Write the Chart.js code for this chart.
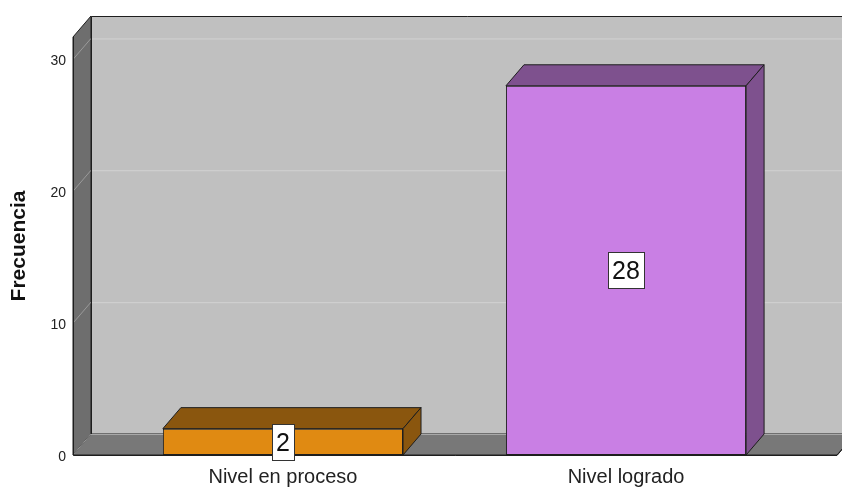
<!DOCTYPE html>
<html lang="es">
<head>
  <meta charset="UTF-8">
  <title>Frecuencia</title>
  <script src="https://cdn.jsdelivr.net/npm/chart.js"></script>
  <style>
    html, body { margin: 0; padding: 0; background: #fff; }
    #wrap { width: 842px; height: 488px; }
  </style>
</head>
<body>
<div id="wrap"><canvas id="barChart" width="842" height="488"></canvas></div>
<script>
  // data
  const categories = ['Nivel en proceso', 'Nivel logrado'];
  const counts = [2, 28];
  const yTicks = [0, 10, 20, 30];

  const frontColors = ['#e08a12', '#c97fe4'];
  const depthColors = ['#8a560e', '#7e518e'];

  // 3D depth offset of the walls and bars
  const DX = 18, DY = -21;

  const walls = {
    id: 'walls',
    beforeDatasetsDraw(chart) {
      const { ctx, chartArea: a, scales: { y } } = chart;
      ctx.save();
      ctx.lineWidth = 1;
      ctx.strokeStyle = '#1e1e1e';
      // back wall
      ctx.fillStyle = '#c0c0c0';
      ctx.fillRect(a.left + DX, a.top + DY, a.right - a.left, a.bottom - a.top);
      // left wall
      ctx.fillStyle = '#6e6e6e';
      ctx.beginPath();
      ctx.moveTo(a.left, a.top);
      ctx.lineTo(a.left + DX, a.top + DY);
      ctx.lineTo(a.left + DX, a.bottom + DY);
      ctx.lineTo(a.left, a.bottom);
      ctx.closePath();
      ctx.fill();
      ctx.stroke();
      // floor
      ctx.fillStyle = '#787878';
      ctx.beginPath();
      ctx.moveTo(a.left, a.bottom);
      ctx.lineTo(a.left + DX, a.bottom + DY);
      ctx.lineTo(a.right + DX, a.bottom + DY);
      ctx.lineTo(a.right, a.bottom);
      ctx.closePath();
      ctx.fill();
      ctx.stroke();
      // grid lines
      yTicks.forEach(v => {
        const py = y.getPixelForValue(v);
        ctx.strokeStyle = v === 0 ? '#a8a8a8' : '#d2d2d2';
        ctx.beginPath();
        ctx.moveTo(a.left + DX, py + DY + 0.5);
        ctx.lineTo(a.right + DX, py + DY + 0.5);
        ctx.stroke();
        ctx.strokeStyle = '#9a9a9a';
        ctx.beginPath();
        ctx.moveTo(a.left, py);
        ctx.lineTo(a.left + DX, py + DY);
        ctx.stroke();
      });
      // wall edges
      ctx.strokeStyle = '#1e1e1e';
      ctx.beginPath();
      ctx.moveTo(a.left + DX + 0.5, a.bottom + DY);
      ctx.lineTo(a.left + DX + 0.5, a.top + DY + 0.5);
      ctx.lineTo(a.right + DX + 2, a.top + DY + 0.5);
      ctx.stroke();
      ctx.beginPath();
      ctx.moveTo(a.left + 0.5, a.top);
      ctx.lineTo(a.left + 0.5, a.bottom + 0.5);
      ctx.lineTo(a.right, a.bottom + 0.5);
      ctx.lineTo(a.right + DX, a.bottom + DY);
      ctx.stroke();
      ctx.restore();
    },
    afterDatasetsDraw(chart) {
      const { ctx } = chart;
      const meta = chart.getDatasetMeta(0);
      ctx.save();
      ctx.lineWidth = 1;
      ctx.strokeStyle = '#1e1e1e';
      meta.data.forEach((bar, i) => {
        const p = bar.getProps(['x', 'y', 'base', 'width'], true);
        const l = p.x - p.width / 2, r = p.x + p.width / 2;
        ctx.fillStyle = depthColors[i];
        // top face
        ctx.beginPath();
        ctx.moveTo(l, p.y);
        ctx.lineTo(l + DX, p.y + DY);
        ctx.lineTo(r + DX, p.y + DY);
        ctx.lineTo(r, p.y);
        ctx.closePath();
        ctx.fill();
        ctx.stroke();
        // side face
        ctx.beginPath();
        ctx.moveTo(r, p.y);
        ctx.lineTo(r + DX, p.y + DY);
        ctx.lineTo(r + DX, p.base + DY);
        ctx.lineTo(r, p.base);
        ctx.closePath();
        ctx.fill();
        ctx.stroke();
      });
      // value labels
      ctx.font = '25px "Liberation Sans", Arial, sans-serif';
      ctx.textAlign = 'center';
      ctx.textBaseline = 'middle';
      meta.data.forEach((bar, i) => {
        const p = bar.getProps(['x', 'y', 'base'], true);
        const txt = String(counts[i]);
        const cy = (p.y + p.base) / 2;
        const w = ctx.measureText(txt).width + 8;
        const h = 36;
        ctx.fillStyle = '#ffffff';
        ctx.fillRect(Math.round(p.x - w / 2) + 0.5, Math.round(cy - h / 2) + 0.5, Math.round(w), h);
        ctx.strokeStyle = '#333333';
        ctx.strokeRect(Math.round(p.x - w / 2) + 0.5, Math.round(cy - h / 2) + 0.5, Math.round(w), h);
        ctx.fillStyle = '#111111';
        ctx.fillText(txt, p.x, cy + 2);
      });
      ctx.restore();
    }
  };

  const ctx = document.getElementById('barChart').getContext('2d');
  const chart = new Chart(ctx, {
    type: 'bar',
    data: {
      datasets: [{
        label: 'Frecuencia',
        data: categories.map((c, i) => ({ x: i, y: counts[i] })),
        backgroundColor: frontColors,
        borderColor: '#1e1e1e',
        borderWidth: 1,
        borderSkipped: false,
        barPercentage: 0.7,
        categoryPercentage: 1
      }]
    },
    options: {
      responsive: false,
      animation: false,
      events: [],
      layout: { padding: { top: 37, right: 5, left: 0, bottom: 0 } },
      plugins: { legend: { display: false }, tooltip: { enabled: false } },
      scales: {
        x: {
          type: 'linear',
          min: -0.612,
          max: 1.615,
          offset: false,
          grid: { display: false, drawTicks: false },
          border: { display: false },
          afterBuildTicks: s => { s.ticks = categories.map((c, i) => ({ value: i })); },
          afterFit: s => { s.height = 33; },
          ticks: {
            autoSkip: false,
            maxRotation: 0,
            padding: 10,
            color: '#222',
            font: { family: '"Liberation Sans", Arial, sans-serif', size: 20 },
            callback: v => categories[v]
          }
        },
        y: {
          min: 0,
          max: 31.7,
          grid: { display: false, drawTicks: false },
          border: { display: false },
          afterFit: s => { s.width = 73; },
          ticks: {
            stepSize: 10,
            includeBounds: false,
            padding: 7,
            labelOffset: 2,
            color: '#222',
            font: { family: '"Liberation Sans", Arial, sans-serif', size: 14 }
          },
          title: {
            display: true,
            text: 'Frecuencia',
            color: '#111',
            padding: { top: 7, bottom: 0 },
            font: { family: '"Liberation Sans", Arial, sans-serif', size: 21, weight: 'bold' }
          }
        }
      }
    },
    plugins: [walls]
  });
</script>
</body>
</html>
